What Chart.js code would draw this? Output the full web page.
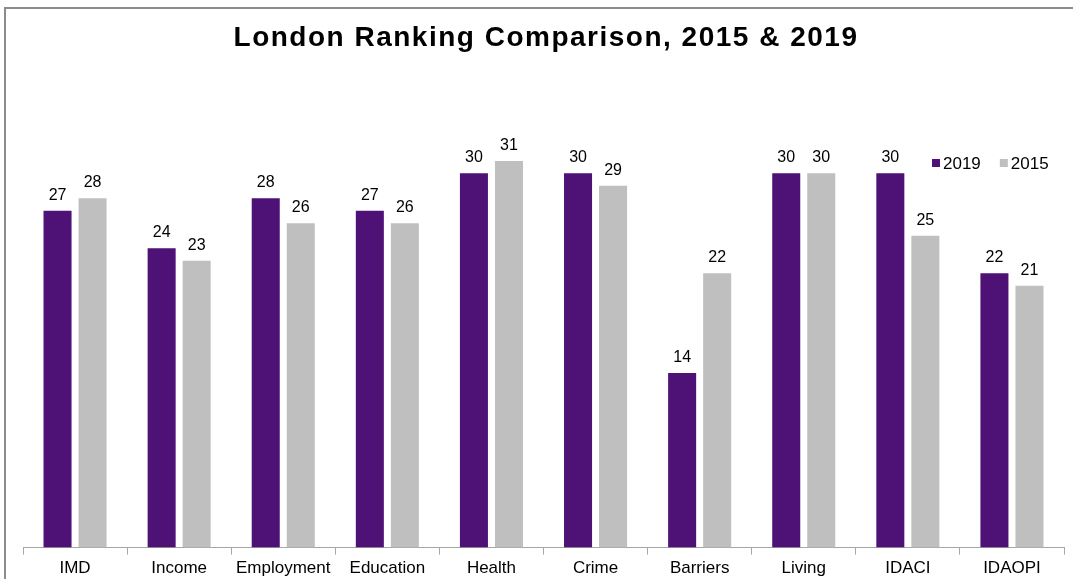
<!DOCTYPE html>
<html><head><meta charset="utf-8">
<script src="https://cdn.jsdelivr.net/npm/chart.js@4/dist/chart.umd.min.js"></script>
<style>
html,body{margin:0;padding:0;background:#fff;overflow:hidden}
#wrap{position:absolute;left:0;top:0;width:1073px;height:579px;overflow:hidden}
#c{position:absolute;left:0;top:0}
#frame{position:absolute;left:4px;top:7px;width:1200px;height:700px;border-left:2px solid #8c8c8c;border-top:2px solid #8c8c8c;pointer-events:none}
</style></head><body>
<div id="wrap"><canvas id="c" width="1073" height="584"></canvas><div id="frame"></div></div>
<script>
const categories = ["IMD","Income","Employment","Education","Health","Crime","Barriers","Living","IDACI","IDAOPI"];
const values2019 = [27,24,28,27,30,30,14,30,30,22];
const values2015 = [28,23,26,26,31,29,22,30,25,21];
const seriesNames = ["2019","2015"];
const titleText = "London Ranking Comparison, 2015 & 2019";

const FONT = "'Liberation Sans', Arial, sans-serif";

const titlePlugin = {
  id:'titlePlugin',
  afterDraw(chart){
    const ctx = chart.ctx;
    ctx.save();
    ctx.font = "bold 28px " + FONT;
    try { ctx.letterSpacing = "1.5px"; } catch(e) {}
    ctx.fillStyle = "#000";
    ctx.textAlign = "center";
    ctx.textBaseline = "alphabetic";
    ctx.fillText(titleText, 546, 46);
    ctx.restore();
  }
};

const valueLabels = {
  id:'valueLabels',
  afterDatasetsDraw(chart){
    const ctx = chart.ctx;
    ctx.save();
    ctx.font = "16px " + FONT;
    ctx.fillStyle = "#000";
    ctx.textAlign = "center";
    ctx.textBaseline = "alphabetic";
    chart.data.datasets.forEach((ds,i)=>{
      chart.getDatasetMeta(i).data.forEach((bar,j)=>{
        ctx.fillText(String(ds.data[j]), bar.x, bar.y - 11);
      });
    });
    ctx.restore();
  }
};

const insideLegend = {
  id:'insideLegend',
  afterDraw(chart){
    const ctx = chart.ctx;
    ctx.save();
    ctx.font = "17px " + FONT;
    ctx.textBaseline = "middle";
    ctx.textAlign = "left";
    let x = 932;
    const y = 163;
    chart.data.datasets.forEach(ds=>{
      ctx.fillStyle = ds.backgroundColor;
      ctx.fillRect(x, y-4, 8, 8);
      ctx.fillStyle = "#000";
      ctx.fillText(ds.label, x+11, y+1);
      x += 11 + ctx.measureText(ds.label).width + 19;
    });
    ctx.restore();
  }
};

new Chart(document.getElementById('c'), {
  type:'bar',
  data:{
    labels: categories,
    datasets:[
      {label: seriesNames[0], data: values2019, backgroundColor:'#4E1175'},
      {label: seriesNames[1], data: values2015, backgroundColor:'#BFBFBF'}
    ]
  },
  options:{
    responsive:false,
    animation:false,
    devicePixelRatio:1,
    categoryPercentage:0.673,
    barPercentage:0.8,
    layout:{padding:{left:23, right:9, top:111, bottom:1}},
    plugins:{
      legend:{display:false},
      tooltip:{enabled:false},
      title:{display:false}
    },
    scales:{
      x:{
        grid:{offset:true, drawOnChartArea:false, drawTicks:true, tickLength:7, color:'#A6A6A6'},
        border:{display:true, color:'#A6A6A6', width:1},
        ticks:{color:'#000', font:{family:FONT, size:17}, padding:4, maxRotation:0, autoSkip:false}
      },
      y:{display:false, min:0, max:35}
    }
  },
  plugins:[valueLabels, insideLegend, titlePlugin]
});
</script>
</body></html>
